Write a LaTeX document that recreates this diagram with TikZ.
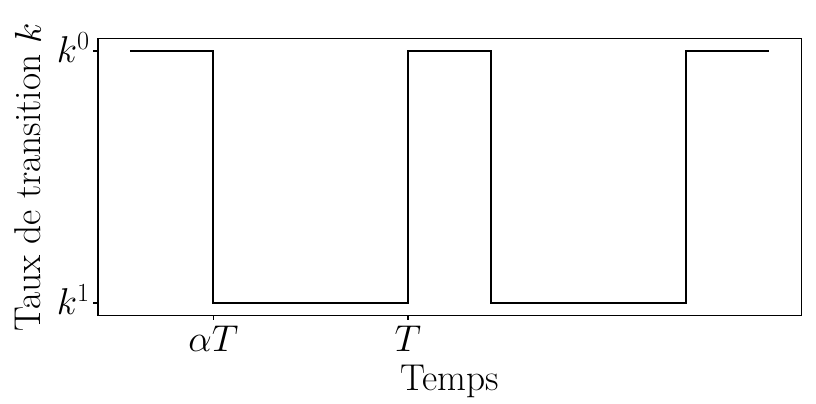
\RequirePackage{fix-cm}
\documentclass[tikz,border=0pt]{standalone}
\begin{document}
\begin{tikzpicture}[x=208.5pt, y=189pt, font=\fontsize{28}{34}\selectfont]
% canvas
\useasboundingbox (-0.4676,-0.3968) rectangle (2.4676,1.2024);

% axes setup
\def\xmin{-0.115}
\def\xmax{2.415}
\def\ymin{-0.05}
\def\ymax{1.05}
\def\tick{0.018}

% frame
\draw[line width=1pt] (\xmin,\ymin) rectangle (\xmax,\ymax);

% ticks
\foreach \y/\lab/\nm in {1/$k^0$/khaut, 0/$k^1$/kbas}{
	\draw[line width=0.8pt] (\xmin,\y) -- (\xmin-\tick,\y);
	\node[anchor=base east, inner sep=0pt] (\nm) at (-0.144,\y-0.046) {\lab};
}
\foreach \x/\lab/\nm in {0.3/$\alpha T$/talpha, 1/$T$/tper}{
	\draw[line width=0.8pt] (\x,\ymin) -- (\x,\ymin-\tick);
	\node[anchor=base, inner sep=0pt] (\nm) at (\x,-0.1905) {\lab};
}

% labels
\node (temps) at (1.15,-0.349) [anchor=base] {Temps};
\node (taux) at (-0.367,0.498) [rotate=90] {Taux de transition $k$};

% signal
\draw[line width=1.5pt] (0,1) -- (0.3,1) -- (0.3,0) -- (1,0) -- (1,1) -- (1.3,1)
	-- (1.3,0) -- (2,0) -- (2,1) -- (2.3,1);
\end{tikzpicture}
\end{document}
